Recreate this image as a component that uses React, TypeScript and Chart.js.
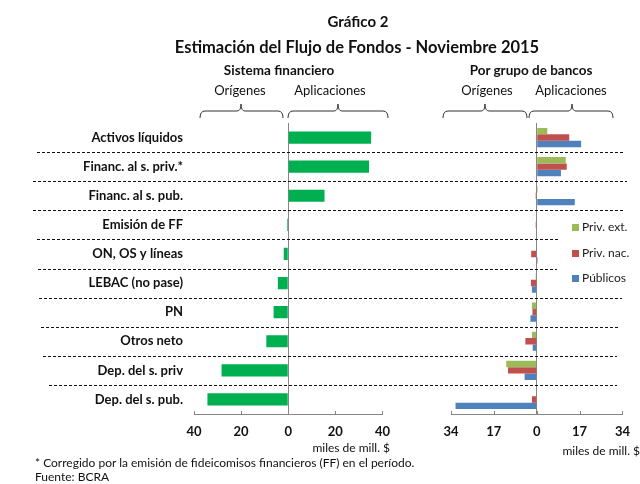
import React, { useEffect, useRef } from "react";
import { Chart, registerables } from "chart.js";

Chart.register(...registerables);

// ---------- data ----------
const categories = [
  "Activos líquidos",
  "Financ. al s. priv.*",
  "Financ. al s. pub.",
  "Emisión de FF",
  "ON, OS y líneas",
  "LEBAC (no pase)",
  "PN",
  "Otros neto",
  "Dep. del s. priv",
  "Dep. del s. pub.",
];
const sistemaFinanciero = [35.2, 34.3, 15.4, -0.5, -1.9, -4.4, -6.2, -9.3, -28.3, -34.3];
const privExt = [4.2, 11.5, 0.4, 0, 0, -0.4, -1.9, -1.9, -12.1, 0];
const privNac = [12.9, 11.9, -0.4, -0.4, -2.2, -2.3, -1.7, -4.5, -11.4, -1.9];
const publicos = [17.6, 9.6, 15.1, 0, 0.4, -1.9, -2.5, -1.6, -4.8, -32.2];
const seriesLabels = ["Priv. ext.", "Priv. nac.", "Públicos"];
const leftRange = { min: -40, max: 40, step: 20 };
const rightRange = { min: -34, max: 34, step: 17 };

// ---------- styles ----------
const FONT = "Lato, 'Gill Sans', 'DejaVu Sans', sans-serif";
const GREEN = "#00B050";
const SERIES_COLORS = ["#9BBB59", "#C0504D", "#4F81BD"];
const AXIS_GRAY = "#868686";
const sepLeftEnds = [37, 33, 33, 37, 38, 39, 41, 43, 49];
const sepRightEnds = [623, 627, 623, 560, 557, 622, 619, 617, 617];

const separatorPlugin = (offsetX: number, fromX: (i: number) => number, toX: (i: number) => number) => ({
  id: "separators",
  afterDraw(chart: any) {
    const ctx = chart.ctx;
    const y = chart.scales.y;
    ctx.save();
    ctx.strokeStyle = "#111";
    ctx.lineWidth = 1;
    ctx.setLineDash([3, 2]);
    for (let i = 0; i < categories.length - 1; i++) {
      const py = Math.round((y.getPixelForValue(i) + y.getPixelForValue(i + 1)) / 2) + 0.5;
      ctx.beginPath();
      ctx.moveTo(fromX(i) - offsetX, py);
      ctx.lineTo(toX(i) - offsetX, py);
      ctx.stroke();
    }
    ctx.restore();
  },
});

const innerTicksPlugin = {
  id: "innerTicks",
  afterDraw(chart: any) {
    const ctx = chart.ctx;
    const x = chart.scales.x;
    const bottom = chart.chartArea.bottom;
    ctx.save();
    ctx.strokeStyle = AXIS_GRAY;
    ctx.lineWidth = 1;
    x.ticks.forEach((t: any) => {
      const px = Math.round(x.getPixelForValue(t.value)) + 0.5;
      ctx.beginPath();
      ctx.moveTo(px, bottom - 3);
      ctx.lineTo(px, bottom);
      ctx.stroke();
    });
    ctx.restore();
  },
};

const legendPlugin = (offsetX: number) => ({
  id: "customLegend",
  afterDraw(chart: any) {
    const ctx = chart.ctx;
    ctx.save();
    ctx.font = `12px ${FONT}`;
    ctx.textBaseline = "middle";
    ctx.textAlign = "left";
    chart.data.datasets.forEach((ds: any, i: number) => {
      const cy = 227.5 + i * 25.5;
      ctx.fillStyle = ds.backgroundColor;
      ctx.fillRect(572 - offsetX, Math.round(cy - 3.5), 7, 7);
      ctx.fillStyle = "#1a1a1a";
      ctx.fillText(ds.label, 582 - offsetX, cy);
    });
    ctx.restore();
  },
});

function xScale(range: { min: number; max: number; step: number }) {
  return {
    type: "linear" as const,
    min: range.min,
    max: range.max,
    afterFit: (s: any) => {
      s.height = 70;
    },
    afterBuildTicks: (s: any) => {
      const t = [];
      for (let v = range.min; v <= range.max + 1e-9; v += range.step) t.push({ value: v });
      s.ticks = t;
    },
    ticks: {
      callback: (v: any) => String(Math.abs(Number(v))),
      font: { family: FONT, size: 13, weight: "bold" as const },
      color: "#111",
      padding: 10,
      maxRotation: 0,
    },
    grid: {
      drawTicks: false,
      lineWidth: 1,
      color: (c: any) => (c.tick && c.tick.value === 0 ? AXIS_GRAY : "rgba(0,0,0,0)"),
    },
    border: { display: true, color: AXIS_GRAY, width: 1 },
  };
}

export default function App() {
  const leftRef = useRef<HTMLCanvasElement | null>(null);
  const rightRef = useRef<HTMLCanvasElement | null>(null);

  useEffect(() => {
    const left = new Chart(leftRef.current!, {
      type: "bar",
      data: {
        labels: categories,
        datasets: [
          {
            label: "Sistema financiero",
            data: sistemaFinanciero,
            backgroundColor: GREEN,
            categoryPercentage: 0.42,
            barPercentage: 1,
          },
        ],
      },
      options: {
        indexAxis: "y",
        animation: false,
        responsive: false,
        devicePixelRatio: 1,
        layout: { padding: { top: 123, right: 17, bottom: 0, left: 0 } },
        plugins: { legend: { display: false }, tooltip: { enabled: false } },
        scales: {
          x: xScale(leftRange) as any,
          y: {
            type: "category",
            afterFit: (s: any) => {
              s.width = 194;
            },
            ticks: {
              font: { family: FONT, size: 13, weight: "bold" },
              color: "#111",
              padding: 11,
            },
            grid: { display: false, drawTicks: false },
            border: { display: false },
          },
        },
      },
      plugins: [separatorPlugin(0, (i) => sepLeftEnds[i], () => 400), innerTicksPlugin],
    });

    const right = new Chart(rightRef.current!, {
      type: "bar",
      data: {
        labels: categories,
        datasets: [privExt, privNac, publicos].map((d, i) => ({
          label: seriesLabels[i],
          data: d,
          backgroundColor: SERIES_COLORS[i],
          categoryPercentage: 0.66,
          barPercentage: 1,
        })),
      },
      options: {
        indexAxis: "y",
        animation: false,
        responsive: false,
        devicePixelRatio: 1,
        layout: { padding: { top: 123, right: 15, bottom: 0, left: 0 } },
        plugins: { legend: { display: false }, tooltip: { enabled: false } },
        scales: {
          x: xScale(rightRange) as any,
          y: {
            type: "category",
            afterFit: (s: any) => {
              s.width = 51;
            },
            ticks: { display: false },
            grid: { display: false, drawTicks: false },
            border: { display: false },
          },
        },
      },
      plugins: [separatorPlugin(400, () => 400, (i) => sepRightEnds[i]), innerTicksPlugin, legendPlugin(400)],
    });

    return () => {
      left.destroy();
      right.destroy();
    };
  }, []);

  const txt = (
    s: string,
    x: number,
    y: number,
    size: number,
    bold: boolean,
    align: "center" | "left" | "right" = "center"
  ) => {
    const tx = align === "center" ? "-50%" : align === "right" ? "-100%" : "0";
    return (
      <div
        key={s + x + y}
        style={{
          position: "absolute",
          left: x,
          top: y,
          transform: `translate(${tx}, -50%)`,
          whiteSpace: "nowrap",
          fontFamily: FONT,
          fontSize: size,
          fontWeight: bold ? 700 : 400,
          lineHeight: 1,
          color: "#111",
        }}
      >
        {s}
      </div>
    );
  };

  const brace = (x1: number, x2: number, mid: number) =>
    `M${x1},118 Q${x1},111 ${x1 + 5},111 L${mid - 4},111 Q${mid},111 ${mid},104 Q${mid},111 ${mid + 4},111 L${x2 - 5},111 Q${x2},111 ${x2},118`;

  return (
    <div
      style={{
        position: "absolute",
        left: 0,
        top: 0,
        width: 640,
        height: 484,
        background: "#fff",
        overflow: "hidden",
      }}
    >
      <canvas
        ref={leftRef}
        width={400}
        height={484}
        style={{ position: "absolute", left: 0, top: 0, width: 400, height: 484, display: "block" }}
      />
      <canvas
        ref={rightRef}
        width={240}
        height={484}
        style={{ position: "absolute", left: 400, top: 0, width: 240, height: 484, display: "block" }}
      />
      <svg
        width={640}
        height={484}
        style={{ position: "absolute", left: 0, top: 0, pointerEvents: "none" }}
      >
        {[
          [200, 283, 241],
          [288, 388, 338],
          [443, 527, 485],
          [529, 613, 572],
        ].map(([a, b, m], i) => (
          <path key={i} d={brace(a, b, m)} fill="none" stroke="#333" strokeWidth={1} />
        ))}
      </svg>
      {txt("Gráfico 2", 358, 21, 15, true)}
      {txt("Estimación del Flujo de Fondos - Noviembre 2015", 357, 47, 16.5, true)}
      {txt("Sistema financiero", 279, 71, 13.5, true)}
      {txt("Por grupo de bancos", 531, 71, 13.5, true)}
      {txt("Orígenes", 240, 90, 13, false)}
      {txt("Aplicaciones", 330, 90, 13, false)}
      {txt("Orígenes", 487, 90, 13, false)}
      {txt("Aplicaciones", 571, 90, 13, false)}
      {txt("miles de mill. $", 390, 448, 12, false, "right")}
      {txt("miles de mill. $", 640, 451, 12, false, "right")}
      {txt("* Corregido por la emisión de fideicomisos financieros (FF) en el período.", 35, 463, 12, false, "left")}
      {txt("Fuente: BCRA", 35, 477, 12, false, "left")}
    </div>
  );
}
